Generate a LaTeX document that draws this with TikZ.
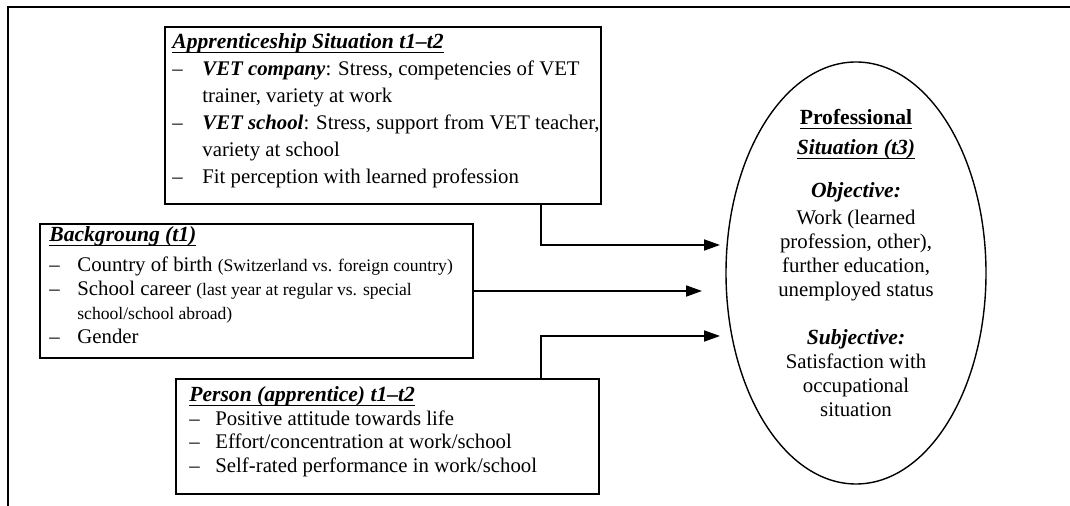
\documentclass[tikz,border=0pt]{standalone}
\usepackage{fontspec}
\setmainfont{Liberation Serif}
\usetikzlibrary{arrows.meta,shapes.geometric}
\newsavebox\ulbox
\newcommand{\ulx}[1]{\sbox\ulbox{#1}\rlap{\rule[-1.9pt]{\wd\ulbox}{0.6pt}}\usebox\ulbox}
\newcommand{\bi}[1]{\textbf{\textit{#1}}}
\newcommand{\ttl}[1]{{\fontsize{10.8}{12}\selectfont\ulx{\bi{#1}}}}
\newcommand{\smalltxt}[1]{{\fontsize{8.8}{12}\selectfont #1}}
\begin{document}
\begin{tikzpicture}[x=0.5pt,y=-0.5pt,
  box/.style={draw, line width=0.9pt, inner sep=0pt, anchor=north west},
  txt/.style={inner sep=0pt, anchor=base west},
  arr/.style={line width=0.9pt, -{Triangle[length=8pt,width=5.5pt]}}]
\useasboundingbox (0,0) rectangle (1070,506);
% outer frame
\draw[line width=0.9pt] (1070,7) -- (8,7) -- (8,506);

% boxes
\node[box, minimum width=218pt, minimum height=88.5pt] (app) at (164,26) {};
\node[box, minimum width=216.5pt, minimum height=67pt] (bg) at (39,223) {};
\node[box, minimum width=211.5pt, minimum height=57.5pt] (per) at (175,378) {};
\node[draw, ellipse, line width=0.7pt, minimum width=130pt, minimum height=211pt, inner sep=0pt] (ell) at (856,273) {};

% apprenticeship text
\node[txt, font=\fontsize{10.4}{13.5}\selectfont] (appt) at (172,49) {%
\begin{tabular}[t]{@{}p{15pt}@{}l@{}}
\multicolumn{2}{@{}l@{}}{\ttl{Apprenticeship Situation t1–t2}}\\
– & \bi{VET company}: Stress, competencies of VET\\
  & trainer, variety at work\\
– & \bi{VET school}: Stress, support from VET teacher,\\
  & variety at school\\
– & Fit perception with learned profession
\end{tabular}};

% background text
\node[txt, font=\fontsize{10.4}{12}\selectfont] (bgt) at (49,242) {%
\begin{tabular}[t]{@{}p{14pt}@{}l@{}}
\multicolumn{2}{@{}l@{}}{\ttl{Backgroung (t1)}}\\[3pt]
– & Country of birth \smalltxt{(Switzerland vs. foreign country)}\\
– & School career \smalltxt{(last year at regular vs. special}\\
  & \smalltxt{school/school abroad)}\\
– & Gender
\end{tabular}};

% person text
\node[txt, font=\fontsize{10.4}{11.7}\selectfont] (pert) at (189,402) {%
\begin{tabular}[t]{@{}p{13pt}@{}l@{}}
\multicolumn{2}{@{}l@{}}{\ttl{Person (apprentice) t1–t2}}\\
– & Positive attitude towards life\\
– & Effort/concentration at work/school\\
– & Self-rated performance in work/school
\end{tabular}};

% ellipse text
\node[inner sep=0pt, anchor=base, font=\fontsize{10.4}{12}\selectfont] (elt) at (856,125) {%
\begin{tabular}[t]{@{}c@{}}
{\fontsize{10.8}{12}\selectfont\ulx{\textbf{Professional}}}\\[3pt]
{\fontsize{10.8}{12}\selectfont\ulx{\bi{Situation (t3)}}}\\[9.5pt]
{\fontsize{10.8}{12}\selectfont\bi{Objective:}}\\[1.5pt]
Work (learned\\
profession, other),\\
further education,\\
unemployed status\\[12pt]
{\fontsize{10.8}{12}\selectfont\bi{Subjective:}}\\
Satisfaction with\\
occupational\\
situation
\end{tabular}};

% connectors
\coordinate (c1) at (720,245);
\coordinate (c2) at (702,291);
\coordinate (c3) at (720,336);
\draw[arr] ([xshift=188.5pt]app.south west) |- (c1);
\draw[arr] (bg.east |- c2) -- (c2);
\draw[arr] ([xshift=183pt]per.north west) |- (c3);
\end{tikzpicture}
\end{document}
